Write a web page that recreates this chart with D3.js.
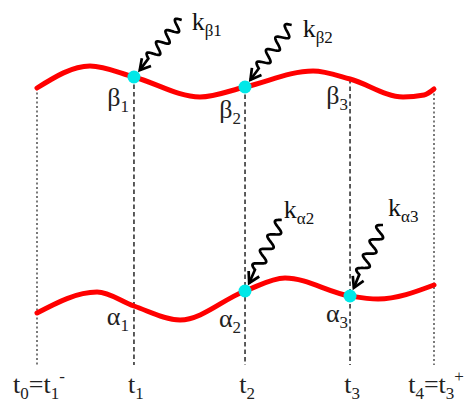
<!DOCTYPE html>
<html lang="en">
<head>
    <meta charset="UTF-8">
    <script src="https://d3js.org/d3.v7.min.js"></script>
    <style>
        body { margin: 0; background: #fff; }
        svg text { font-family: "Liberation Serif", "DejaVu Serif", serif; }
        .curve { fill: none; stroke: #ff0000; stroke-width: 5px; stroke-linecap: round; }
        .guide { stroke: #333; stroke-width: 1.5px; }
        .kick { fill: none; stroke: #000; stroke-width: 2.7px; }
    </style>
</head>
<body>
<script>
    const width = 467;
    const height = 410;

    // time instants (t0 .. t4) and their labels
    const tTicks = [0, 0.977, 2.096, 3.154, 4];
    const tickLabels = ["t_0=t_1^-", "t_1", "t_2", "t_3", "t_4=t_3^+"];

    // upper trajectory (beta)
    const betaT = [0, 0.534, 0.977, 1.642, 2.096, 2.781, 3.154, 3.688, 3.9, 4];
    const betaV = [27.7, 29.9, 28.8, 26.8, 27.8, 29.4, 28.6, 26.8, 27.0, 27.6];
    const betaLabels = ["β_1", "β_2", "β_3"];

    // lower trajectory (alpha)
    const alphaT = [0, 0.605, 0.977, 1.441, 2.096, 2.499, 3.154, 3.436, 4];
    const alphaV = [5.2, 7.3, 5.9, 4.5, 7.4, 8.7, 6.9, 6.6, 8.0];
    const alphaLabels = ["α_1", "α_2", "α_3"];

    // kicks: where they hit and where the wavy arrow starts
    const kickLabels = ["k_β1", "k_β2", "k_α2", "k_α3"];
    const kickT = [0.977, 2.096, 2.096, 3.154];
    const kickV = [28.8, 27.8, 7.4, 6.9];
    const kickFromT = [1.458, 2.566, 2.466, 3.486];
    const kickFromV = [34.5, 34.0, 14.5, 14.0];

    const x = d3.scaleLinear().domain([0, 4]).range([37, 434]);
    const y = d3.scaleLinear().domain([0, 30]).range([365, 65]);

    const svg = d3.select('body').append('svg')
        .attr('width', width)
        .attr('height', height);

    // text with _xx subscripts and ^x superscripts (script runs to the next marker)
    function richText(sel, str, big, small) {
        sel.attr('font-size', big);
        const parts = [];
        let i = 0;
        while (i < str.length) {
            let mode = 'n';
            if (str[i] === '_') { mode = 's'; i++; }
            else if (str[i] === '^') { mode = 'p'; i++; }
            let j = i;
            if (mode === 'n') {
                while (j < str.length && str[j] !== '_' && str[j] !== '^') j++;
            } else {
                while (j < str.length && str[j] !== '_' && str[j] !== '^' && str[j] !== '=') j++;
            }
            parts.push({ mode, text: str.slice(i, j) });
            i = j;
        }
        let cur = 0;
        parts.forEach(p => {
            const target = p.mode === 's' ? 6 : p.mode === 'p' ? -11 : 0;
            sel.append('tspan')
                .attr('font-size', p.mode === 'n' ? big : small)
                .attr('dy', target - cur)
                .text(p.text);
            cur = target;
        });
    }

    const line = d3.line().curve(d3.curveMonotoneX)
        .x(d => x(d[0])).y(d => y(d[1]));

    const betaPts = betaT.map((t, i) => [t, betaV[i]]);
    const alphaPts = alphaT.map((t, i) => [t, alphaV[i]]);

    const betaAt = t => d3.scaleLinear().domain(betaT).range(betaV)(t);

    // vertical guides
    const outer = i => i === 0 || i === tTicks.length - 1;
    svg.selectAll('.guide')
        .data(tTicks)
        .enter().append('line')
        .attr('class', 'guide')
        .attr('x1', d => x(d)).attr('x2', d => x(d))
        .attr('y1', d => y(betaAt(d))).attr('y2', y(0))
        .attr('stroke-dasharray', (d, i) => outer(i) ? '2,2.5' : '4.5,3')
        .style('stroke-width', (d, i) => outer(i) ? 1.3 : 1.6);

    svg.append('path').datum(betaPts).attr('class', 'curve').attr('d', line);
    svg.append('path').datum(alphaPts).attr('class', 'curve').attr('d', line);

    // tick labels
    tickLabels.forEach((lab, i) => {
        svg.append('text')
            .attr('x', x(tTicks[i]) + 2)
            .attr('y', 393)
            .attr('text-anchor', 'middle')
            .attr('fill', '#222')
            .call(richText, lab, 26, 17);
    });

    // curve labels
    const betaBase = [106, 118, 104];
    const alphaBase = [325, 327, 322];
    const labDx = [-5, -4, -2];
    betaLabels.forEach((lab, i) => {
        svg.append('text')
            .attr('x', x(tTicks[i + 1]) + labDx[i])
            .attr('y', betaBase[i])
            .attr('text-anchor', 'end')
            .attr('fill', '#222')
            .call(richText, lab, 26, 17);
    });
    alphaLabels.forEach((lab, i) => {
        svg.append('text')
            .attr('x', x(tTicks[i + 1]) + labDx[i])
            .attr('y', alphaBase[i])
            .attr('text-anchor', 'end')
            .attr('fill', '#222')
            .call(richText, lab, 26, 17);
    });

    // wavy arrows
    const labOff = [[10, 10], [11, 12], [2, -2], [5, -9]];
    kickT.forEach((t, i) => {
        const sx = x(kickFromT[i]), sy = y(kickFromV[i]);
        const cx = x(t), cy = y(kickV[i]);
        const dx = cx - sx, dy = cy - sy;
        const len = Math.hypot(dx, dy);
        const ux = dx / len, uy = dy / len;
        const nx = -uy, ny = ux;
        const L = len - 9;
        const ex = sx + ux * L, ey = sy + uy * L;
        const Lw = L - 14;
        const lambda = 2 * Lw / 7;
        const amp = 5.5;
        const pts = [];
        for (let s = 0; s <= Lw; s += 0.5) {
            const w = amp * Math.sin(2 * Math.PI * s / lambda);
            pts.push([sx + ux * s + nx * w, sy + uy * s + ny * w]);
        }
        pts.push([ex, ey]);
        svg.append('path').attr('class', 'kick')
            .attr('d', d3.line()(pts));
        const a = 0.52, hl = 12;
        const head = [a, -a].map(b => [
            ex - hl * (ux * Math.cos(b) - uy * Math.sin(b)),
            ey - hl * (uy * Math.cos(b) + ux * Math.sin(b))
        ]);
        svg.append('path').attr('class', 'kick')
            .attr('d', d3.line()([head[0], [ex, ey], head[1]]));

        svg.append('text')
            .attr('x', sx + labOff[i][0])
            .attr('y', sy + labOff[i][1])
            .attr('fill', '#111')
            .call(richText, kickLabels[i], 26, 17);
    });

    // hit points
    svg.selectAll('.hit')
        .data(kickT)
        .enter().append('circle')
        .attr('class', 'hit')
        .attr('cx', d => x(d))
        .attr('cy', (d, i) => y(kickV[i]))
        .attr('r', 6.5)
        .style('fill', '#00e8e8');
</script>
</body>
</html>
